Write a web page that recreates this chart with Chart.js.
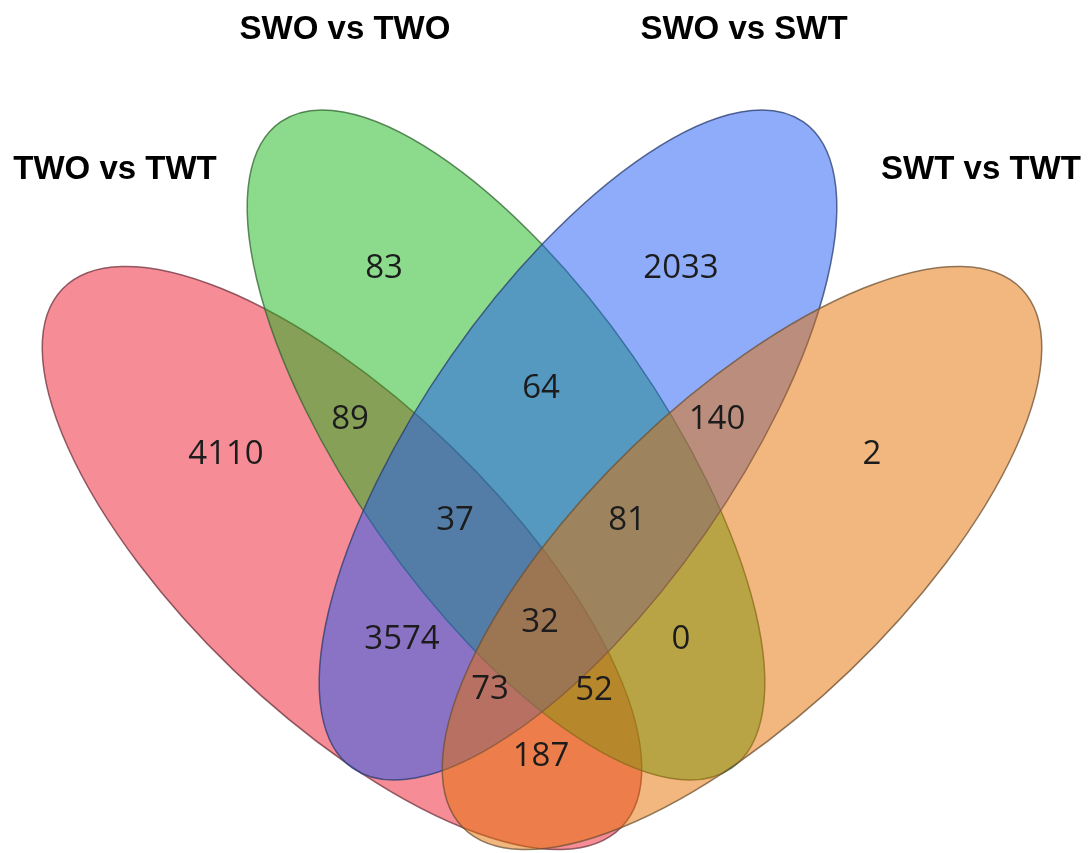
<!DOCTYPE html>
<html>
<head>
<meta charset="utf-8">
<script src="https://cdn.jsdelivr.net/npm/chart.js@4.4.1/dist/chart.umd.min.js"></script>
<style>
  html, body { margin: 0; padding: 0; background: #ffffff; }
  #wrap { width: 1092px; height: 853px; }
</style>
</head>
<body>
<div id="wrap"><canvas id="c" width="1092" height="853"></canvas></div>
<script>
// ---------- DATA ----------
const setNames = ['TWO vs TWT', 'SWO vs TWO', 'SWO vs SWT', 'SWT vs TWT'];
// region keys: A=TWO vs TWT, B=SWO vs TWO, C=SWO vs SWT, D=SWT vs TWT
const regionKeys   = ['A', 'B', 'C', 'D', 'AB', 'BC', 'CD', 'ABC', 'BCD', 'AC', 'BD', 'ABCD', 'ACD', 'ABD', 'AD'];
const regionCounts = [4110, 83, 2033, 2, 89, 64, 140, 37, 81, 3574, 0, 32, 73, 52, 187];

// ---------- LAYOUT (positions / sizes, in plot units) ----------
const ellipseLayout = {
  A: { cx: 342, cy: 558, rx: 388, ry: 156, rot: 43.9 },
  B: { cx: 506, cy: 445, rx: 394, ry: 155, rot: 55.1 },
  C: { cx: 578, cy: 445, rx: 394, ry: 155, rot: -55.1 },
  D: { cx: 742, cy: 558, rx: 388, ry: 156, rot: -43.9 }
};
const setLabelLayout = {
  A: { x: 115, y: 167 },
  B: { x: 345, y: 27 },
  C: { x: 744, y: 27 },
  D: { x: 981, y: 167 }
};
const regionLayout = {
  A: [226, 452], B: [384, 266], C: [681, 266], D: [872, 452],
  AB: [350, 417], BC: [541, 386], CD: [717, 417],
  ABC: [455, 518], BCD: [627, 518],
  AC: [402, 637], BD: [681, 637],
  ABCD: [540, 620], ACD: [490, 687], ABD: [594, 688], AD: [541, 754]
};
const setStyles = {
  A: { fill: 'rgba(235, 25, 45, 0.5)',  stroke: 'rgba(110, 50, 60, 0.75)' },
  B: { fill: 'rgba(25, 181, 25, 0.5)',  stroke: 'rgba(50, 100, 50, 0.75)' },
  C: { fill: 'rgba(31, 89, 245, 0.5)',  stroke: 'rgba(40, 60, 110, 0.75)' },
  D: { fill: 'rgba(229, 111, 0, 0.5)',  stroke: 'rgba(110, 80, 50, 0.75)' }
};
const setKeys = ['A', 'B', 'C', 'D'];

const points = regionKeys.map((k, i) => ({ x: regionLayout[k][0], y: regionLayout[k][1], v: regionCounts[i] }));

const vennPlugin = {
  id: 'venn',
  beforeDatasetsDraw(chart) {
    const ctx = chart.ctx;
    const xs = chart.scales.x, ys = chart.scales.y;
    const k = Math.abs(xs.getPixelForValue(1) - xs.getPixelForValue(0));
    setKeys.forEach(key => {
      const e = ellipseLayout[key];
      const px = xs.getPixelForValue(e.cx), py = ys.getPixelForValue(e.cy);
      ctx.save();
      ctx.beginPath();
      ctx.ellipse(px, py, e.rx * k, e.ry * k, e.rot * Math.PI / 180, 0, Math.PI * 2);
      ctx.fillStyle = setStyles[key].fill;
      ctx.fill();
      ctx.lineWidth = 1.5;
      ctx.strokeStyle = setStyles[key].stroke;
      ctx.stroke();
      ctx.restore();
    });
  },
  afterDatasetsDraw(chart) {
    const ctx = chart.ctx;
    const xs = chart.scales.x, ys = chart.scales.y;
    const meta = chart.getDatasetMeta(0);
    ctx.save();
    ctx.fillStyle = '#1c1c1c';
    ctx.textAlign = 'center';
    ctx.textBaseline = 'alphabetic';
    ctx.font = '33px "Open Sans", "Noto Sans", sans-serif';
    meta.data.forEach((el, i) => {
      const v = chart.data.datasets[0].data[i].v;
      ctx.fillText(String(v), el.x, el.y + 11.8);
    });
    ctx.fillStyle = '#000000';
    ctx.font = 'bold 33px "Liberation Sans", Arial, sans-serif';
    setKeys.forEach((key, i) => {
      const p = setLabelLayout[key];
      ctx.fillText(setNames[i], xs.getPixelForValue(p.x), ys.getPixelForValue(p.y) + 11.8);
    });
    ctx.restore();
  }
};

new Chart(document.getElementById('c'), {
  type: 'scatter',
  data: {
    datasets: [{
      label: 'regions',
      data: points,
      pointRadius: 0,
      pointHoverRadius: 0,
      showLine: false
    }]
  },
  options: {
    responsive: false,
    animation: false,
    layout: { padding: 0 },
    plugins: { legend: { display: false }, tooltip: { enabled: false } },
    events: [],
    scales: {
      x: { type: 'linear', min: 0, max: 1092, display: false },
      y: { type: 'linear', min: 0, max: 853, reverse: true, display: false }
    }
  },
  plugins: [vennPlugin]
});
</script>
</body>
</html>
